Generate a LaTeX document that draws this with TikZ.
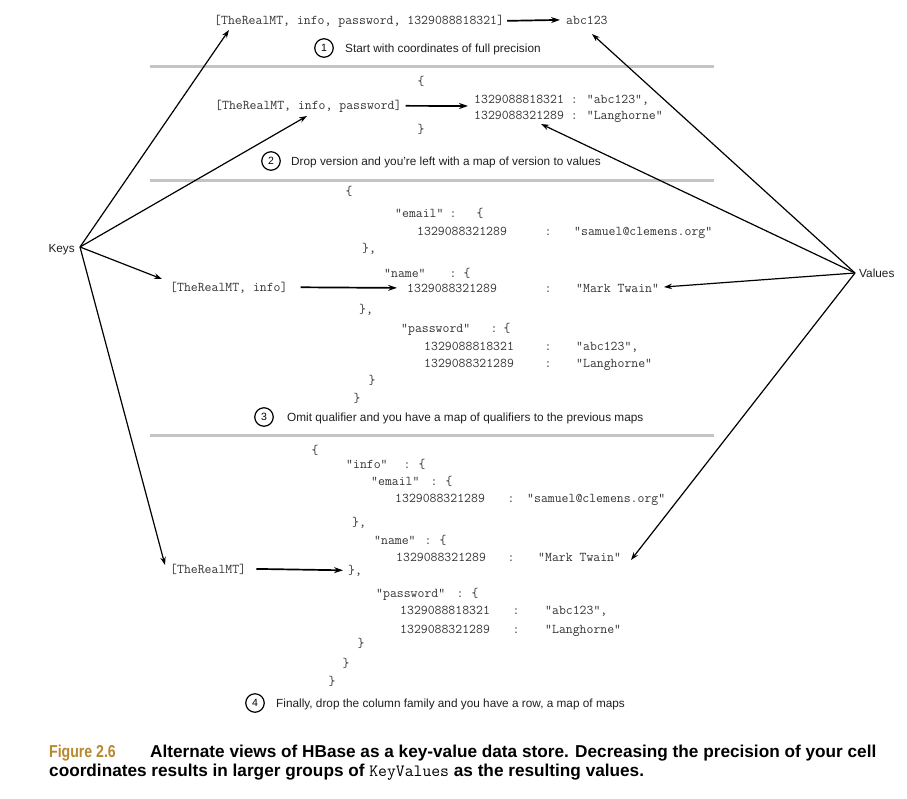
\documentclass[tikz,border=0pt]{standalone}
\usepackage{fontspec}
\setmainfont{Liberation Sans}
\newfontfamily\codefont{Latin Modern Mono}
\usetikzlibrary{arrows.meta}
\definecolor{codegray}{HTML}{333333}
\definecolor{figgold}{HTML}{B8872E}
\definecolor{sepgray}{HTML}{C4C4C4}
\tikzset{
  code/.style={font=\codefont\fontsize{13.4}{15}\selectfont, text=codegray, inner sep=0pt, anchor=base west},
  codec/.style={code, anchor=base},
  lbl/.style={font=\fontsize{11.8}{14}\selectfont, text=black!88, inner sep=0pt, anchor=base west},
  num/.style={draw, circle, line width=1.2pt, minimum size=18.5pt, inner sep=0pt, font=\fontsize{10.5}{12}\selectfont},
  sepline/.style={line width=3pt, sepgray},
  darr/.style={line width=1.2pt, -{Stealth[length=8pt,width=5.5pt]}},
  harr/.style={line width=1.7pt, -{Stealth[length=9pt,width=6pt]}},
  capt/.style={font=\bfseries\fontsize{17.2}{19}\selectfont, inner sep=0pt, anchor=base west},
}
\begin{document}
\begin{tikzpicture}[x=1pt,y=-1pt]
\useasboundingbox (0,0) rectangle (907,798);

% ---------- Keys / Values ----------
\node[lbl, anchor=base east] (keys) at (75,252) {Keys};
\coordinate (kp) at (80,247);
\node[lbl] (values) at (859,277) {Values};
\coordinate (vp) at (855,273);

% ---------- Section 1 ----------
\node[code] (l1) at (214,24) {[TheRealMT, info, password, 1329088818321]};
\node[code] (abc) at (566,24) {abc123};
\draw[harr] ([xshift=3pt]l1.east) -- ([xshift=-6pt]abc.west);
\node[num] (c1) at (324,48) {1};
\node[lbl] (t1) at (345,52) {Start with coordinates of full precision};
\draw[sepline] (150,66) coordinate (s1a) -- (714,66) coordinate (s1b);

% ---------- Section 2 ----------
\node[codec] (s2o) at (421,85) {\{};
\node[code] (k2) at (215,109) {[TheRealMT, info, password]};
\node[code] (v2a) at (474,103) {1329088818321 : "abc123",};
\node[code] (v2b) at (474,119) {1329088321289 : "Langhorne"};
\node[codec] (s2c) at (421,133) {\}};
\coordinate (v2mid) at (468,106);
\draw[harr] ([xshift=4pt]k2.east) -- (v2mid);
\node[num] (c2) at (271,161) {2};
\node[lbl] (t2) at (291,165) {Drop version and you're left with a map of version to values};
\draw[sepline] (150,180) coordinate (s2a) -- (714,180) coordinate (s2b);

% ---------- Section 3 ----------
\node[codec] (s3o) at (349,195) {\{};
\node[code] (s3ek) at (395,217) {"email"};
\node[codec] (s3ec) at (453,217) {:};
\node[codec] (s3eb) at (480,217) {\{};
\node[code] (s3en) at (417,235) {1329088321289};
\node[codec] (s3enc) at (548,235) {:};
\node[code] (s3ev) at (574,235) {"samuel@clemens.org"};
\node[code] (s3ecl) at (362,252) {\},};
\node[code] (s3nk) at (384,277) {"name"};
\node[codec] (s3nc) at (453,277) {:};
\node[codec] (s3nb) at (467,277) {\{};
\node[code] (k3) at (170,291) {[TheRealMT, info]};
\node[code] (s3nn) at (407,292) {1329088321289};
\node[codec] (s3nnc) at (548,292) {:};
\node[code] (s3nv) at (576,292) {"Mark Twain"};
\node[code] (s3ncl) at (359,313) {\},};
\node[code] (s3pk) at (401,332) {"password"};
\node[codec] (s3pc) at (494,332) {:};
\node[codec] (s3pb) at (507,332) {\{};
\node[code] (s3pn1) at (424,350) {1329088818321};
\node[codec] (s3pn1c) at (548,350) {:};
\node[code] (s3pv1) at (576,350) {"abc123",};
\node[code] (s3pn2) at (424,367) {1329088321289};
\node[codec] (s3pn2c) at (548,367) {:};
\node[code] (s3pv2) at (576,367) {"Langhorne"};
\node[codec] (s3pcl) at (372,384) {\}};
\node[codec] (s3c) at (357,402) {\}};
\draw[harr] ([xshift=13pt]k3.east) -- ([xshift=-10pt]s3nn.west);
\node[num] (c3) at (264,417) {3};
\node[lbl] (t3) at (287,421) {Omit qualifier and you have a map of qualifiers to the previous maps};
\draw[sepline] (150,435) coordinate (s3a) -- (714,435) coordinate (s3b);

% ---------- Section 4 ----------
\node[codec] (s4o) at (315,454) {\{};
\node[code] (s4ik) at (346,468) {"info"};
\node[codec] (s4ic) at (407,468) {:};
\node[codec] (s4ib) at (422,468) {\{};
\node[code] (s4ek) at (371,485) {"email"};
\node[codec] (s4ec) at (434,485) {:};
\node[codec] (s4eb) at (449,485) {\{};
\node[code] (s4en) at (395,502) {1329088321289};
\node[codec] (s4enc) at (511,502) {:};
\node[code] (s4ev) at (527,502) {"samuel@clemens.org"};
\node[code] (s4ecl) at (352,526) {\},};
\node[code] (s4nk) at (374,544) {"name"};
\node[codec] (s4nc) at (428,544) {:};
\node[codec] (s4nb) at (443,544) {\{};
\node[code] (s4nn) at (396,561) {1329088321289};
\node[codec] (s4nnc) at (511,561) {:};
\node[code] (s4nv) at (538,561) {"Mark Twain"};
\node[code] (k4) at (170,573) {[TheRealMT]};
\node[code] (s4icl) at (348,574) {\},};
\node[code] (s4pk) at (376,597) {"password"};
\node[codec] (s4pc) at (460,597) {:};
\node[codec] (s4pb) at (475,597) {\{};
\node[code] (s4pn1) at (400,614) {1329088818321};
\node[codec] (s4pn1c) at (516,614) {:};
\node[code] (s4pv1) at (545,614) {"abc123",};
\node[code] (s4pn2) at (400,633) {1329088321289};
\node[codec] (s4pn2c) at (516,633) {:};
\node[code] (s4pv2) at (545,633) {"Langhorne"};
\node[codec] (s4pcl) at (361,647) {\}};
\node[codec] (s4icl2) at (346,667) {\}};
\node[codec] (s4c) at (332,685) {\}};
\draw[harr] ([xshift=10pt]k4.east) -- ([xshift=-5pt]s4icl.west);
\node[num] (c4) at (255,703) {4};
\node[lbl] (t4) at (276,707) {Finally, drop the column family and you have a row, a map of maps};

% ---------- Keys arrows ----------
\coordinate (kt1) at (229,30);
\coordinate (kt2) at (307,116);
\coordinate (kt3) at (162,279);
\coordinate (kt4) at (165,565);
\draw[darr] (kp) -- (kt1);
\draw[darr] (kp) -- (kt2);
\draw[darr] (kp) -- (kt3);
\draw[darr] (kp) -- (kt4);

% ---------- Values arrows ----------
\coordinate (vt1) at (592,34);
\coordinate (vt2) at (541,124);
\coordinate (vt3) at (664,287);
\coordinate (vt4) at (631,560);
\draw[darr] (vp) -- (vt1);
\draw[darr] (vp) -- (vt2);
\draw[darr] (vp) -- (vt3);
\draw[darr] (vp) -- (vt4);

% ---------- Caption ----------
\node[capt, text=figgold] (fig) at (49,757) {\scalebox{0.82}[1]{Figure 2.6}};
\node[capt] (cap1) at (150,757) {Alternate views of HBase as a key-value data store. Decreasing the precision of your cell};
\node[capt] (cap2) at (49,776) {coordinates results in larger groups of {\mdseries\codefont\fontsize{17.2}{19}\selectfont KeyValues} as the resulting values.};
\end{tikzpicture}
\end{document}
